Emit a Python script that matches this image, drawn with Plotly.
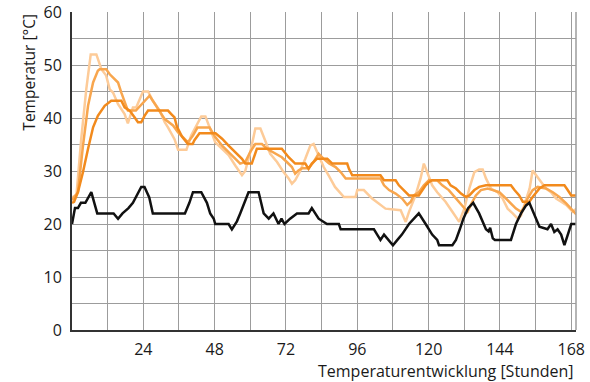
import plotly.graph_objects as go

# Hourly temperature traces over one week: (hour, °C) breakpoints
ambient = [
    (0, 20), (1, 23), (2, 23), (3, 24), (4.5, 24), (5.5, 25), (6.5, 26), (7.5, 24), (8.5, 22),
    (14, 22), (15.5, 21), (17, 22), (19, 23), (20.5, 24), (22, 25.5), (23.3, 27), (24.4, 27),
    (26, 25), (27.2, 22), (38, 22), (39.5, 24), (40.7, 26), (43.5, 26), (45.4, 24), (46.5, 22),
    (47.7, 21), (48.2, 20), (52.7, 20), (53.8, 19), (55.5, 20.5), (56.6, 22), (58, 24),
    (59.4, 26), (62.8, 26), (64.5, 22), (66.2, 21), (67.8, 22), (69.5, 20), (70.5, 21),
    (71.5, 20), (73.4, 21), (75.7, 22), (79.6, 22), (80.7, 23), (83, 21), (85.8, 20),
    (89.8, 20), (90.4, 19), (101.6, 19), (102.7, 18), (103.8, 17), (105, 18), (106.5, 17),
    (108, 16), (109.5, 17), (111, 18), (113.4, 20), (115, 21), (116.7, 22), (119, 20),
    (121.2, 18), (122.9, 17), (123.5, 16), (128, 16), (129.2, 17), (130.5, 19), (131.7, 21),
    (133.3, 23), (135, 24), (137, 22), (139.3, 19), (140.2, 18.6), (140.7, 19.3), (141.6, 17.3),
    (142.3, 17), (147.7, 17), (149.4, 20), (151.1, 22), (152.8, 23.5), (153.9, 24), (156.2, 21),
    (157.3, 19.5), (160, 19), (161.2, 20), (162.3, 18.5), (163.4, 19), (164.6, 18), (165.7, 16),
    (168, 20), (169.7, 20),
]

probe_a = [
    (0, 25), (1.5, 25.5), (3.1, 36), (4.8, 45.4), (6.3, 52), (8.2, 52), (9.9, 49.2), (11.5, 48),
    (12.7, 45.4), (13.8, 44.8), (15.5, 42.6), (17.7, 40.75), (18.8, 39), (20.5, 42), (21.6, 42),
    (23.9, 45), (25.6, 45), (27.2, 43.25), (29.5, 41.4), (31.2, 39.2), (32.3, 38.25), (34.5, 36),
    (35.7, 34), (38.5, 34), (40.1, 36.7), (41.8, 38.6), (43.5, 40.3), (44.9, 40.3), (46, 38.6),
    (48.2, 35.4), (50.5, 34.2), (52.7, 33), (55, 31), (56, 30.1), (57.2, 29.2), (58.3, 30),
    (60, 33.6), (61.7, 38), (63.4, 38), (65, 35.75), (66.7, 33.25), (69, 31.7), (71.2, 29.8),
    (72.9, 28.6), (74, 27.6), (75.1, 28.25), (76.8, 30), (78.5, 32.3), (80.2, 34.8), (81.3, 35.1),
    (83, 33), (84.7, 30.75), (86.3, 29.2), (88.5, 27), (91.5, 25.1), (95.4, 25.1), (96, 26.4),
    (98.2, 26.4), (101, 24.8), (105.5, 22.9), (110.6, 22.6), (111.2, 21.7), (112.3, 20.4),
    (113.4, 22.3), (115.6, 25.4), (117.3, 28.6), (118.4, 31.4), (119.5, 29.8), (121.2, 27.3),
    (122.9, 26), (125.7, 24.2), (128, 22.3), (129.6, 21), (130.3, 20.4), (132, 22.9), (133.7, 26.7),
    (135.4, 29.8), (137, 30.3), (138.2, 30.3), (139.3, 28.6), (141, 26.7), (143.2, 26), (144.9, 24.8),
    (146.6, 22.9), (148.3, 22), (150, 21), (151.1, 21.6), (152.2, 23.6), (154, 26.7), (155, 30.1),
    (156.2, 29.2), (157.8, 28), (159.5, 26.7), (161.2, 26), (162.9, 24.8), (164.6, 24.2),
    (166.3, 23.6), (168.5, 22.3), (169.7, 22.9),
]

probe_b = [
    (0, 24.5), (2, 26), (3.7, 34.8), (5.4, 42.3), (7.1, 46.7), (8.7, 48.9), (9.3, 49.2), (11.5, 49.2),
    (12.7, 48.25), (14.3, 47.3), (15.5, 46.7), (16.6, 44.8), (18.3, 42.3), (18.8, 41.4), (21.5, 41.4),
    (24, 43), (26.1, 44.2), (27.2, 43.25), (28.9, 41.7), (31.2, 39.8), (34, 38.6), (35.7, 37.3),
    (37.3, 36.4), (39, 35.4), (40.7, 36.7), (42.2, 38.2), (46.3, 38.2), (48.2, 36.4), (50.5, 34.8),
    (52.7, 33.6), (55, 32.3), (56.6, 31.4), (58.3, 31.7), (60, 33.6), (61.7, 35.1), (63.9, 35.1),
    (65.6, 34.2), (68.4, 33.25), (70.6, 32.6), (72.3, 31.7), (74, 30.75), (75.1, 29.5), (76.2, 30.1),
    (77.4, 30.5), (79.6, 30.5), (81.3, 31.7), (83, 33.25), (84.7, 32.3), (86.5, 31.4), (88.7, 30.75),
    (90.4, 29.8), (92.1, 28.6), (103.8, 28.6), (105, 27.3), (106.7, 26.4), (108.9, 25.75),
    (111.1, 24.8), (112.8, 23.6), (114, 24.2), (115, 25.4), (116.7, 26), (118.4, 27.3), (120.1, 28.25),
    (122.9, 28.25), (124.6, 27.3), (126.8, 26.4), (129.2, 24.8), (131.4, 23.25), (133.1, 22.3),
    (134.2, 23.6), (135.9, 25.4), (137.6, 26.4), (139.9, 26.7), (141.6, 26.4), (143.8, 26),
    (145.5, 25.1), (147.7, 23.9), (149.4, 22.9), (151.1, 22.3), (152.2, 23.2), (153.3, 24.8),
    (155, 26.4), (156.7, 27), (159.5, 26.7), (161.8, 26), (164, 25.1), (166.3, 23.9), (168, 22.9),
    (169.7, 21.8),
]

probe_c = [
    (0, 24), (0.7, 24.2), (2, 26), (3.7, 29.8), (5.4, 34.2), (7.1, 38.25), (8.7, 40.4), (9.9, 41.4),
    (11, 42.3), (13.2, 43.25), (16.6, 43.25), (17.7, 42), (19.4, 41.4), (21.1, 40.1), (22.2, 39.2),
    (23.3, 39.2), (24.4, 40.4), (25.6, 41.4), (32.3, 41.4), (33.4, 40.75), (34.5, 40.1), (35.3, 38.4),
    (37, 36.5), (39, 35.1), (40.6, 35.1), (41.2, 35.8), (42.9, 37.1), (48.3, 37.1), (50.5, 36.1),
    (52.7, 34.8), (55, 33.6), (57.2, 32.3), (58.3, 31.4), (60.5, 31.4), (62.2, 34.2), (70.6, 34.2),
    (72.9, 32.6), (75.1, 31.4), (78.5, 31.4), (79.6, 30.4), (80.7, 31.4), (82.4, 32.3), (85.9, 32.3),
    (87.6, 31.4), (92.6, 31.4), (93.2, 30.4), (94.3, 29.2), (103.8, 29.2), (105, 28.25),
    (108.9, 28.25), (110, 27.3), (111.7, 26.4), (113.4, 25.4), (116.7, 25.4), (117.9, 26.4),
    (119, 27.3), (120.1, 27.9), (121.2, 28.25), (126.3, 28.25), (127.4, 27.3), (129.2, 26.7),
    (130.9, 25.75), (132.6, 25.1), (133.7, 25.4), (135.4, 26.4), (137, 27), (139.3, 27.3),
    (147.7, 27.3), (148.9, 26.4), (150.5, 25.4), (151.7, 24.2), (153.9, 24.2), (155, 25.1),
    (156.2, 26), (157.3, 26.7), (159, 27.3), (165.7, 27.3), (166.8, 26.4), (168, 25.4), (169.7, 25.4),
]

x_ticks = [24, 48, 72, 96, 120, 144, 168]
y_ticks = [0, 10, 20, 30, 40, 50, 60]

series = [
    (probe_a, "#FDCB98"),
    (probe_b, "#F8A64E"),
    (probe_c, "#F28A1C"),
    (ambient, "#111111"),
]

FONT = "Open Sans, Noto Sans, sans-serif"
GRID = "#9c9c9c"

fig = go.Figure()
for pts, color in series:
    hx, ty = zip(*pts)
    fig.add_trace(go.Scatter(
        x=list(hx), y=list(ty), mode="lines",
        line=dict(color=color, width=2.5),
        hoverinfo="skip", showlegend=False,
    ))

fig.update_layout(
    width=590, height=382,
    margin=dict(l=72, r=14, t=12, b=52, autoexpand=False),
    paper_bgcolor="white", plot_bgcolor="white",
    font=dict(family=FONT, size=16, color="#1a1a1a"),
    showlegend=False,
    xaxis=dict(
        range=[0, 169.6], tickvals=x_ticks, showgrid=True, gridcolor=GRID, gridwidth=1,
        minor=dict(dtick=12, tick0=0, showgrid=True, gridcolor=GRID, gridwidth=1),
        zeroline=False, showline=True, linecolor="#333333", linewidth=2,
        ticks="", ticklabelstandoff=4, tickfont=dict(size=16), automargin=False,
    ),
    yaxis=dict(
        range=[0, 60], tickvals=y_ticks, showgrid=True, gridcolor=GRID, gridwidth=1,
        minor=dict(dtick=5, tick0=0, showgrid=True, gridcolor=GRID, gridwidth=1),
        zeroline=False, showline=True, linecolor="#333333", linewidth=2,
        ticks="", ticklabelstandoff=5, tickfont=dict(size=16), automargin=False,
    ),
    annotations=[
        dict(text="Temperatur [°C]", textangle=-90, xref="paper", yref="paper",
             x=-0.087, y=1.0, xanchor="center", yanchor="top", showarrow=False,
             font=dict(size=15.5)),
        dict(text="Temperaturentwicklung [Stunden]", xref="paper", yref="paper",
             x=1.0, y=-0.088, xanchor="right", yanchor="top", showarrow=False,
             font=dict(size=16)),
    ],
    shapes=[
        dict(type="line", xref="paper", yref="paper", x0=1, x1=1, y0=0, y1=1,
             line=dict(color=GRID, width=1.5)),
    ],
)

fig.write_html("out.html")
